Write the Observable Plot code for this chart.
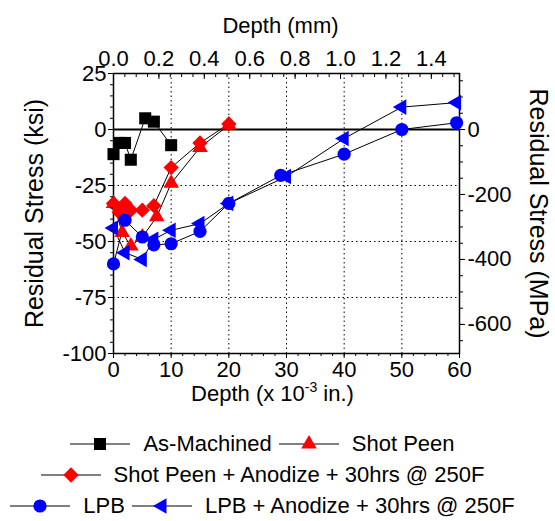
<!DOCTYPE html>
<html><head><meta charset="utf-8">
<script src="https://cdn.jsdelivr.net/npm/d3@7"></script>
<script src="https://cdn.jsdelivr.net/npm/@observablehq/plot@0.6"></script>
<style>
body{margin:0;background:#fff;font-family:"Liberation Sans",Arial,sans-serif;color:#000;}
#legend{width:525px;margin-top:8px;}
.row{display:flex;justify-content:center;align-items:center;height:31px;font-size:22px;white-space:nowrap;}
.sw{width:60px;height:20px;margin-right:13px;flex:none;}
.lab{margin-right:7px;}
.lab:last-child{margin-right:0;}
</style></head><body>
<div id="chart"></div>
<div id="legend"></div>
<script>
// ---- data (depth in 1e-3 in., stress in ksi) ----
const series = ["As-Machined","Shot Peen","Shot Peen + Anodize + 30hrs @ 250F","LPB","LPB + Anodize + 30hrs @ 250F"];
const colors = ["black","red","red","blue","blue"];
const amX   = [0, 1, 2, 3, 5.5, 7, 10];
const amY   = [-11, -6, -6, -13.5, 5, 3.5, -7];
const spX   = [0, 1.5, 3, 5, 7.5, 10, 15, 20];
const spY   = [-33, -46, -52, -48, -39, -24, -8, 2];
const spaX  = [0, 1, 2, 3, 5, 7, 10, 15, 20];
const spaY  = [-33, -37, -33, -36, -36, -34, -17, -6, 2.5];
const lpbX  = [0, 2, 5, 7, 10, 15, 20, 29, 40, 50, 59.5];
const lpbY  = [-60, -40.5, -48, -51.5, -51, -45.5, -33, -20.5, -11, 0, 3];
const lpbaX = [0, 2, 5, 7, 10, 15, 20, 30, 40, 50, 59.5];
const lpbaY = [-44, -55, -58, -49, -45, -42, -33, -21, -4, 10, 12];

// ---- ticks ----
const xTicks = [0, 10, 20, 30, 40, 50, 60];
const xMinor = d3.range(0, 61, 2);
const yTicks = [25, 0, -25, -50, -75, -100];
const yMinor = d3.range(25, -101, -5);
const mmTicks = [0, 0.2, 0.4, 0.6, 0.8, 1.0, 1.2, 1.4];
const mmMinor = d3.range(0, 1.5001, 0.05);
const mpaTicks = [0, -200, -400, -600];
const mpaMinor = d3.range(150, -651, -50);
const xGrid = [10, 20, 30, 40, 50];
const yGrid = [-25, -50, -75];

const IN_PER_MM = 1 / 0.0254; // mm -> 1e-3 in.
const KSI_PER_MPA = 1 / 6.895;

const xs = [amX, spX, spaX, lpbX, lpbaX];
const ys = [amY, spY, spaY, lpbY, lpbaY];
const rows = series.flatMap((s, i) => xs[i].map((x, j) => ({s, i, x, y: ys[i][j]})));

const sq3 = Math.sqrt(3);
const leftTri = {draw(ctx, size){
  const y = -Math.sqrt(size / (sq3 * 3));
  ctx.moveTo(2 * y, 0); ctx.lineTo(-y, -sq3 * y); ctx.lineTo(-y, sq3 * y); ctx.closePath();
}};
const symbols = [d3.symbolSquare, d3.symbolTriangle, d3.symbolDiamond2, d3.symbolCircle, leftTri];
const radii = [6.8, 5.8, 6.9, 6.6, 5.8];

const dotMarks = series.map((s, i) => Plot.dot(rows.filter(d => d.i === i), {
  x: "x", y: "y", symbol: symbols[i], r: radii[i], fill: colors[i], stroke: "none"
}));

const fs = 22;
const fsY = 25;
const chart = Plot.plot({
  width: 555, height: 420,
  marginTop: 73, marginBottom: 67, marginLeft: 113, marginRight: 96,
  x: {domain: [0, 60], label: null},
  y: {domain: [-100, 25], label: null},
  style: {fontFamily: "'Liberation Sans', Arial, sans-serif", fontSize: "22px", color: "black", background: "white"},
  marks: [
    Plot.gridX(xGrid, {stroke: "black", strokeOpacity: 1, strokeDasharray: "1.5,3"}),
    Plot.gridY(yGrid, {stroke: "black", strokeOpacity: 1, strokeDasharray: "1.5,3"}),
    Plot.ruleY([0], {stroke: "black", strokeWidth: 2}),
    ...series.map((s, i) => Plot.line(rows.filter(d => d.i === i), {x: "x", y: "y", stroke: "black", strokeWidth: 1})),
    Plot.frame({stroke: "black", strokeWidth: 1.5}),
    ...dotMarks,
    // bottom axis
    Plot.axisX(xTicks, {anchor: "bottom", tickSize: 5, tickPadding: 3, fontSize: fs, tickFormat: d => String(d), label: null}),
    Plot.axisX(xMinor, {anchor: "bottom", tickSize: 3, tickFormat: () => "", label: null}),
    // left axis
    Plot.axisY(yTicks, {anchor: "left", tickSize: 5, tickPadding: 2, fontSize: fs, tickFormat: d => String(d), label: null}),
    Plot.axisY(yMinor, {anchor: "left", tickSize: 3, tickFormat: () => "", label: null}),
    // top axis (mm)
    Plot.axisX(mmTicks.map(m => m * IN_PER_MM), {anchor: "top", tickSize: -5, tickPadding: 13, fontSize: fs, tickFormat: d => (d / IN_PER_MM).toFixed(1), label: null}),
    Plot.axisX(mmMinor.map(m => m * IN_PER_MM), {anchor: "top", tickSize: -3, tickFormat: () => "", label: null}),
    // right axis (MPa)
    Plot.axisY(mpaTicks.map(m => m * KSI_PER_MPA), {anchor: "right", tickSize: 5, tickPadding: 3, fontSize: fs, tickFormat: d => String(Math.round(d / KSI_PER_MPA)), label: null}),
    Plot.axisY(mpaMinor.map(m => m * KSI_PER_MPA), {anchor: "right", tickSize: 3, tickFormat: () => "", label: null}),
    // titles
    Plot.text(["Depth (mm)"], {text: d => d, frameAnchor: "top", dy: -56, dx: -6, fontSize: fs, textAnchor: "middle"}),
    Plot.text(["Depth (x 10-3 in.)"], {text: d => d, frameAnchor: "bottom", dy: 47, dx: -14, fontSize: fs, textAnchor: "middle", className: "xtitle"}),
    Plot.text(["Residual Stress (ksi)"], {text: d => d, frameAnchor: "left", dx: -79, rotate: -90, fontSize: fsY, textAnchor: "middle"}),
    Plot.text(["Residual Stress (MPa)"], {text: d => d, frameAnchor: "right", dx: 78, rotate: 90, fontSize: fsY, textAnchor: "middle"})
  ]
});
document.getElementById("chart").appendChild(chart);

// superscript in bottom title
const xt = chart.querySelector(".xtitle text");
if (xt) {
  xt.textContent = "";
  const ns = "http://www.w3.org/2000/svg";
  const a = document.createElementNS(ns, "tspan"); a.textContent = "Depth (x 10";
  const b = document.createElementNS(ns, "tspan"); b.textContent = "-3"; b.setAttribute("dy", "-9"); b.setAttribute("font-size", "14");
  const c = document.createElementNS(ns, "tspan"); c.textContent = " in.)"; c.setAttribute("dy", "9");
  xt.append(a, b, c);
}

// legend
const legendRows = [[0, 1], [2], [3, 4]];
const leg = document.getElementById("legend");
for (const r of legendRows) {
  const row = document.createElement("div"); row.className = "row";
  for (const i of r) {
    const sw = d3.create("svg").attr("class", "sw").attr("width", 60).attr("height", 20);
    sw.append("line").attr("x1", 0).attr("x2", 60).attr("y1", 10).attr("y2", 10).attr("stroke", "black").attr("stroke-width", 1);
    sw.append("path").attr("transform", "translate(30,10)")
      .attr("d", d3.symbol(symbols[i], radii[i] * radii[i] * Math.PI)()).attr("fill", colors[i]);
    row.appendChild(sw.node());
    const lab = document.createElement("span"); lab.className = "lab"; lab.textContent = series[i];
    row.appendChild(lab);
  }
  leg.appendChild(row);
}
</script>
</body></html>
